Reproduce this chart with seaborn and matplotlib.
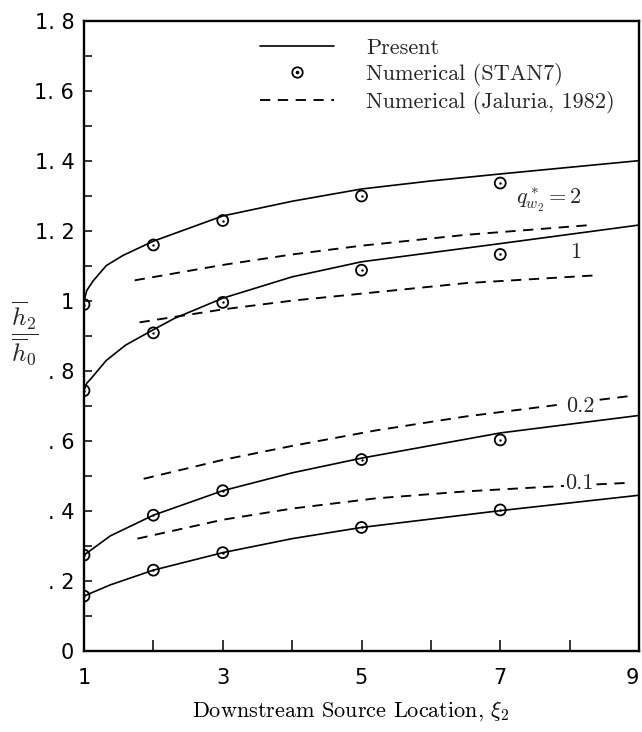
import matplotlib
matplotlib.use("Agg")
import matplotlib.pyplot as plt
import seaborn as sns
import pandas as pd
from matplotlib.lines import Line2D
from matplotlib.legend_handler import HandlerTuple

# ---------------- data ----------------
# Present analysis (solid curves)
present_x_q2 = [1, 1.04, 1.13, 1.32, 1.56, 2, 3, 4, 5, 6, 7, 8, 9]
present_y_q2 = [1.0, 1.03, 1.057, 1.101, 1.13, 1.171, 1.243, 1.285, 1.320, 1.343, 1.363, 1.382, 1.401]
present_x_q1 = [1, 1.04, 1.1, 1.32, 1.6, 2, 2.3, 3, 4, 5, 7, 9]
present_y_q1 = [0.744, 0.765, 0.778, 0.83, 0.874, 0.918, 0.95, 1.008, 1.069, 1.112, 1.164, 1.217]
present_x_q02 = [1, 1.38, 2, 3, 4, 5, 7, 9]
present_y_q02 = [0.274, 0.329, 0.388, 0.458, 0.509, 0.551, 0.623, 0.673]
present_x_q01 = [1, 1.38, 2, 3, 4, 5, 7, 9]
present_y_q01 = [0.157, 0.189, 0.231, 0.281, 0.321, 0.353, 0.401, 0.445]

# Numerical (STAN7) points
stan_x = [1, 2, 3, 5, 7]
stan_q2 = [0.99, 1.16, 1.23, 1.30, 1.337]
stan_q1 = [0.744, 0.909, 0.996, 1.088, 1.133]
stan_q02 = [0.274, 0.388, 0.458, 0.547, 0.603]
stan_q01 = [0.157, 0.231, 0.281, 0.353, 0.403]

# Numerical (Jaluria, 1982) dashed curves
jal_x_q2 = [1.73, 3, 4, 5, 6.5, 8.3]
jal_y_q2 = [1.059, 1.103, 1.133, 1.158, 1.189, 1.217]
jal_x_q1 = [1.8, 3, 4, 5.2, 6.5, 8.35]
jal_y_q1 = [0.939, 0.976, 1.001, 1.025, 1.051, 1.073]
jal_x_q02 = [1.86, 3, 4, 5.2, 6.5, 7.9, 8.85]
jal_y_q02 = [0.492, 0.546, 0.586, 0.630, 0.670, 0.705, 0.728]
jal_x_q01 = [1.77, 3, 4, 5.2, 6.5, 7.85, 8.8]
jal_y_q01 = [0.321, 0.375, 0.407, 0.436, 0.456, 0.471, 0.480]

x_ticks = [1, 2, 3, 4, 5, 6, 7, 8, 9]
x_ticklabels = ["1", "", "3", "", "5", "", "7", "", "9"]
y_ticks = [0, 0.1, 0.2, 0.3, 0.4, 0.5, 0.6, 0.7, 0.8, 0.9, 1.0,
           1.1, 1.2, 1.3, 1.4, 1.5, 1.6, 1.7, 1.8]
y_ticklabels = ["0", "", ". 2", "", ". 4", "", ". 6", "", ". 8", "", "1",
                "", "1. 2", "", "1. 4", "", "1. 6", "", "1. 8"]

curve_labels = ["$q^*_{w_2}=2$", "1", "0.2", "0.1"]
curve_label_x = [7.22, 8.08, 8.15, 8.14]
curve_label_y = [1.29, 1.14, 0.70, 0.478]

legend_labels = ["Present", "Numerical (STAN7)", "Numerical (Jaluria, 1982)"]

# ---------------- style ----------------
sns.set_theme(style="white")
plt.rcParams["font.family"] = ["cmr10", "DejaVu Serif"]
plt.rcParams["mathtext.fontset"] = "cm"
plt.rcParams["axes.unicode_minus"] = False
plt.rcParams["axes.formatter.use_mathtext"] = True

fig = plt.figure(figsize=(6.42, 7.32), dpi=100)
ax = fig.add_axes([84 / 642, (732 - 651) / 732, 555 / 642, 630 / 732])

LW = 1.2
present = [(present_x_q2, present_y_q2), (present_x_q1, present_y_q1),
           (present_x_q02, present_y_q02), (present_x_q01, present_y_q01)]
for xs, ys in present:
    df = pd.DataFrame({"x": xs, "y": ys})
    sns.lineplot(data=df, x="x", y="y", ax=ax, color="black", lw=LW,
                 sort=False, estimator=None)

jal = [(jal_x_q2, jal_y_q2), (jal_x_q1, jal_y_q1),
       (jal_x_q02, jal_y_q02), (jal_x_q01, jal_y_q01)]
for xs, ys in jal:
    df = pd.DataFrame({"x": xs, "y": ys})
    sns.lineplot(data=df, x="x", y="y", ax=ax, color="black", lw=1.35,
                 dashes=False, sort=False, estimator=None,
                 linestyle=(0, (5.5, 4.0)))

for ys in [stan_q2, stan_q1, stan_q02, stan_q01]:
    df = pd.DataFrame({"x": stan_x, "y": ys})
    sns.scatterplot(data=df, x="x", y="y", ax=ax, marker="o", s=62,
                    facecolor="none", edgecolor="black", linewidth=1.3,
                    zorder=5)
    sns.scatterplot(data=df, x="x", y="y", ax=ax, marker="o", s=3,
                    color="black", linewidth=0, zorder=6)

for t, lx, ly in zip(curve_labels, curve_label_x, curve_label_y):
    ha = "left" if t.startswith("$") else "center"
    ax.text(lx, ly, t, fontsize=16, ha=ha, va="center", zorder=7,
            bbox=dict(facecolor="white", edgecolor="none", pad=1.0))

# ---------------- axes ----------------
ax.set_xlim(1, 9)
ax.set_ylim(0, 1.8)
ax.set_xticks(x_ticks)
ax.set_xticklabels(x_ticklabels, fontfamily="DejaVu Sans", fontsize=15)
ax.get_xticklabels()[-1].set_horizontalalignment("right")
ax.set_yticks(y_ticks)
ax.set_yticklabels(y_ticklabels, fontfamily="DejaVu Sans", fontsize=15)
ax.tick_params(axis="x", direction="in", length=8, width=1.1, pad=12,
               bottom=True, top=False, colors="black")
ax.tick_params(axis="y", direction="in", length=6, width=1.1, pad=7,
               left=True, right=False, colors="black")
for sp in ax.spines.values():
    sp.set_visible(True)
    sp.set_color("black")
    sp.set_linewidth(1.7)

ax.set_xlabel("Downstream Source Location, $\\xi_2$", fontsize=16,
              color="black")
ax.xaxis.set_label_coords(0.481, -0.077)
ax.set_ylabel("")
fig.text(25 / 642, 1 - 333 / 732,
         "$\\dfrac{\\overline{h}_2}{\\overline{h}_0}$",
         fontsize=18, ha="center", va="center")

# legend
h_present = Line2D([], [], color="black", lw=LW)
h_stan_c = Line2D([], [], color="black", marker="o", markersize=7.5,
                  markerfacecolor="none", markeredgewidth=1.3, lw=0)
h_stan_d = Line2D([], [], color="black", marker="o", markersize=1.6, lw=0)
h_jal = Line2D([], [], color="black", lw=1.35, linestyle=(0, (5.5, 4.0)))
ax.legend([h_present, (h_stan_c, h_stan_d), h_jal], legend_labels,
          handler_map={tuple: HandlerTuple(ndivide=1)},
          loc="upper left", bbox_to_anchor=(0.318, 0.972), frameon=False,
          fontsize=16, handlelength=3.3, handletextpad=1.45,
          labelspacing=0.22, borderpad=0, borderaxespad=0, numpoints=1)

fig.savefig("out.png", dpi=100, facecolor="white")
